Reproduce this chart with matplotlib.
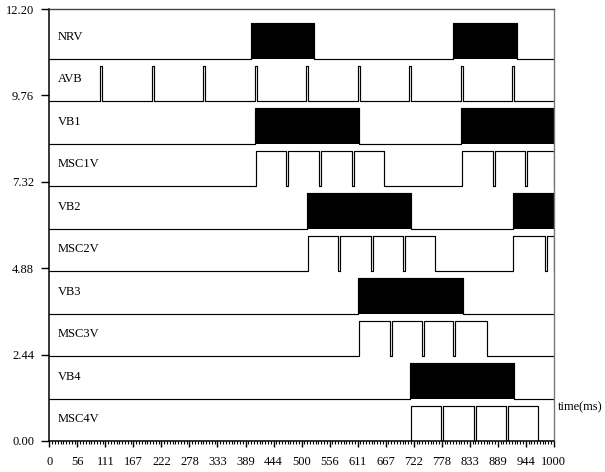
import numpy as np
import matplotlib
matplotlib.use("Agg")
import matplotlib.pyplot as plt
from matplotlib.ticker import MultipleLocator

plt.rcParams["font.family"] = ["Liberation Serif", "DejaVu Serif"]

# row names, top to bottom
row_names = ["NRV", "AVB", "VB1", "MSC1V", "VB2", "MSC2V", "VB3", "MSC3V", "VB4", "MSC4V"]

# dense spike trains, drawn as filled bursts (start, end) in ms
nrv_bursts = [(400, 525), (801, 926)]
vb1_bursts = [(408, 614), (816, 1000)]
vb2_bursts = [(510, 716), (918, 1000)]
vb3_bursts = [(612, 819)]
vb4_bursts = [(715, 920)]

# square pulses, (on, off) in ms
avb_pulses = [(101, 105), (203, 207), (305, 309), (407, 411), (509, 513),
              (611, 615), (713, 717), (815, 819), (917, 921)]
msc1v_pulses = [(410, 470), (474, 534), (538, 599), (603, 663),
                (818, 879), (883, 943), (947, 1000)]
msc2v_pulses = [(512, 573), (577, 637), (641, 701), (705, 764),
                (919, 982), (986, 1000)]
msc3v_pulses = [(614, 675), (679, 738), (742, 801), (805, 867)]
msc4v_pulses = [(716, 777), (781, 841), (845, 905), (909, 968)]

signals = {
    "NRV": ("burst", nrv_bursts),
    "AVB": ("pulse", avb_pulses),
    "VB1": ("burst", vb1_bursts),
    "MSC1V": ("pulse", msc1v_pulses),
    "VB2": ("burst", vb2_bursts),
    "MSC2V": ("pulse", msc2v_pulses),
    "VB3": ("burst", vb3_bursts),
    "MSC3V": ("pulse", msc3v_pulses),
    "VB4": ("burst", vb4_bursts),
    "MSC4V": ("pulse", msc4v_pulses),
}

y_ticks = [0.00, 2.44, 4.88, 7.32, 9.76, 12.20]
x_tick_labels = ["0", "56", "111", "167", "222", "278", "333", "389", "444", "500",
                 "556", "611", "667", "722", "778", "833", "889", "944", "1000"]

T_END = 1000
ROW_STEP = 1.2
AMP = 1.0
FS = 9


def step_trace(intervals, t_end):
    xs, ys = [0], [0]
    for on, off in intervals:
        xs += [on, on, off, off]
        ys += [0, AMP, AMP, 0]
    xs.append(t_end)
    ys.append(0)
    return np.array(xs, dtype=float), np.array(ys, dtype=float)


fig = plt.figure(figsize=(6.05, 4.72), dpi=100)
ax = fig.add_axes([0.0815, 0.0657, 0.834, 0.9152])

n = len(row_names)
for i, name in enumerate(row_names):
    base = ROW_STEP * (n - 1 - i)
    kind, intervals = signals[name]
    xs, ys = step_trace(intervals, T_END)
    if kind == "burst":
        for on, off in intervals:
            ax.fill_between([on, off], base, base + AMP, color="black", lw=0)
    ax.plot(xs, ys + base, color="black", lw=0.85)
    ax.text(17, base + 0.62, name, ha="left", va="center", fontsize=FS)

ax.set_xlim(0, T_END)
ax.set_ylim(0, 12.2)

ax.set_yticks(y_ticks)
ax.set_yticklabels([f"{v:.2f}" for v in y_ticks])
ax.set_xticks(np.linspace(0, T_END, len(x_tick_labels)))
ax.set_xticklabels(x_tick_labels)
ax.xaxis.set_minor_locator(MultipleLocator(T_END / 180))

ax.tick_params(axis="y", direction="out", length=6, width=1, pad=5, labelsize=FS)
ax.tick_params(axis="x", which="major", direction="out", length=4, width=1, pad=7, labelsize=FS)
ax.tick_params(axis="x", which="minor", direction="out", length=2.5, width=0.8)

for side in ["left", "bottom"]:
    ax.spines[side].set_linewidth(1.1)
    ax.spines[side].set_color("black")
ax.spines["top"].set_color("#444444")
ax.spines["right"].set_color("#777777")
ax.spines["top"].set_linewidth(1)
ax.spines["right"].set_linewidth(1)

fig.text(0.922, 0.138, "time(ms)", ha="left", va="center", fontsize=FS)

fig.savefig("out.png", dpi=100)
